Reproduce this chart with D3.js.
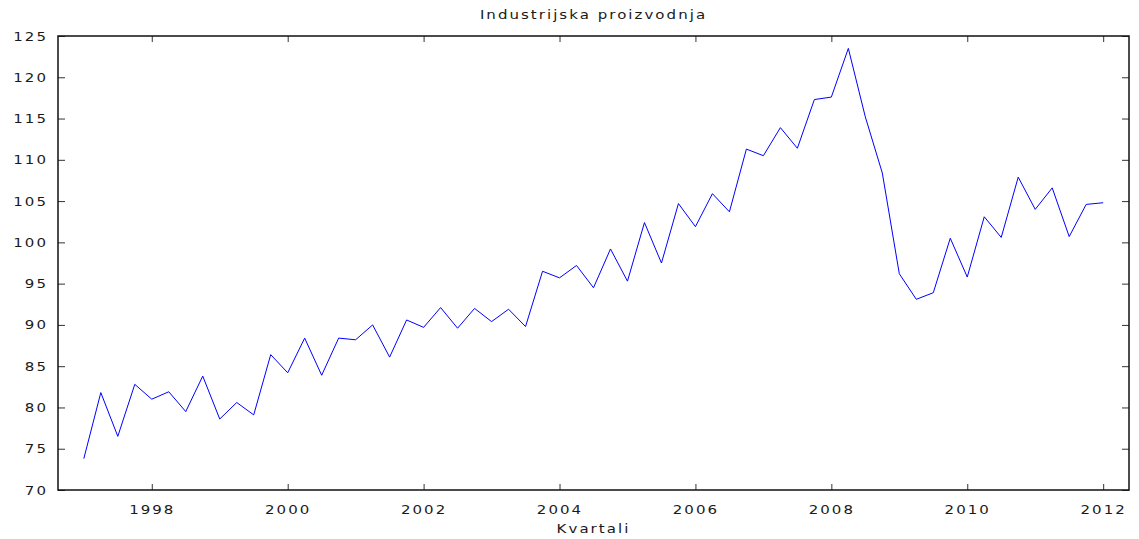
<!DOCTYPE html>
<html>
<head>
<meta charset="utf-8">
<script src="https://d3js.org/d3.v7.min.js"></script>
<style>
    body { margin: 0; background: #fff; }
    text { font-family: "DejaVu Sans", sans-serif; fill: #1a1a1a; }
</style>
</head>
<body>
<div id="chart"></div>
<script>
// quarterly series, first quarter 1997:1
const startYear = 1997;
const values = [
    73.8, 81.8, 76.5, 82.8, 81.0, 81.9, 79.5, 83.8,
    78.6, 80.6, 79.1, 86.4, 84.2, 88.4, 83.9, 88.4,
    88.2, 90.0, 86.1, 90.6, 89.7, 92.1, 89.6, 92.0,
    90.4, 91.9, 89.8, 96.5, 95.7, 97.2, 94.5, 99.2,
    95.3, 102.4, 97.5, 104.7, 101.9, 105.9, 103.7, 111.3,
    110.5, 113.9, 111.4, 117.3, 117.6, 123.5, 115.2, 108.4,
    96.2, 93.1, 93.9, 100.5, 95.8, 103.1, 100.6, 107.9,
    104.0, 106.6, 100.7, 104.6, 104.8
];
const xTicks = [1998, 2000, 2002, 2004, 2006, 2008, 2010, 2012];
const yTicks = [70, 75, 80, 85, 90, 95, 100, 105, 110, 115, 120, 125];
const title = "Industrijska proizvodnja";
const xLabel = "Kvartali";

let data = values.map(function(v, i){
    return {t: startYear + i / 4, v: v};
});

//dimensions
let W = 1139, H = 539;
let margin = ({top: 36, right: 10, bottom: 49, left: 58});
let width = W - margin.left - margin.right;
let height = H - margin.top - margin.bottom;

//text is drawn a bit wider than DejaVu, like the gnuplot output
let sx = 1.2, fs = 12.5, ls = 1.7;

let svg = d3.select('#chart')
    .append('svg')
        .attr("width", W)
        .attr("height", H);
let g = svg.append('g')
    .attr("transform", "translate(" + margin.left + "," + margin.top + ")");

let x = d3.scaleLinear()
    .domain([1996.62, 2012.38])
    .range([0, width]);
let y = d3.scaleLinear()
    .domain([70, 125])
    .range([height, 0]);

//tick marks point inward, mirrored on all four sides
let tick = 6;
let xa = g.append('g')
    .attr("transform", "translate(0," + height + ")")
    .call(d3.axisBottom(x).tickValues(xTicks).tickFormat(d3.format("d"))
        .tickSizeInner(-tick).tickSizeOuter(0).tickPadding(15));
let xt = g.append('g')
    .call(d3.axisTop(x).tickValues(xTicks).tickFormat("")
        .tickSizeInner(-tick).tickSizeOuter(0));
let ya = g.append('g')
    .call(d3.axisLeft(y).tickValues(yTicks)
        .tickSizeInner(-7).tickSizeOuter(0).tickPadding(10));
let yr = g.append('g')
    .attr("transform", "translate(" + width + ",0)")
    .call(d3.axisRight(y).tickValues(yTicks).tickFormat("")
        .tickSizeInner(-7).tickSizeOuter(0));

[xa, xt, ya, yr].forEach(function(a){
    a.select(".domain").remove();
    a.selectAll(".tick line").attr("stroke", "#333").attr("stroke-width", 1);
    a.selectAll(".tick text")
        .attr("font-family", "DejaVu Sans")
        .attr("font-size", fs)
        .attr("letter-spacing", ls)
        .attr("fill", "#1a1a1a")
        .attr("x", function(){ return (+d3.select(this).attr("x") || 0) / sx; })
        .attr("transform", "scale(" + sx + ",1)");
});

//frame
g.append("rect")
    .attr("x", 0).attr("y", 0)
    .attr("width", width).attr("height", height)
    .attr("fill", "none")
    .attr("stroke", "#111")
    .attr("stroke-width", 1.5);

//the series
let line = d3.line()
    .x(function(d){ return x(d.t); })
    .y(function(d){ return y(d.v); });
g.append("path")
    .datum(data)
    .attr("fill", "none")
    .attr("stroke", "#0000ff")
    .attr("stroke-width", 1)
    .attr("d", line);

//title and axis label
function label(txt, cx, by){
    svg.append("g")
        .attr("transform", "translate(" + cx + "," + by + ") scale(" + sx + ",1)")
        .append("text")
        .attr("text-anchor", "middle")
        .attr("font-size", fs)
        .attr("letter-spacing", ls)
        .text(txt);
}
label(title, margin.left + width / 2, 19);
label(xLabel, margin.left + width / 2, 533);
</script>
</body>
</html>
